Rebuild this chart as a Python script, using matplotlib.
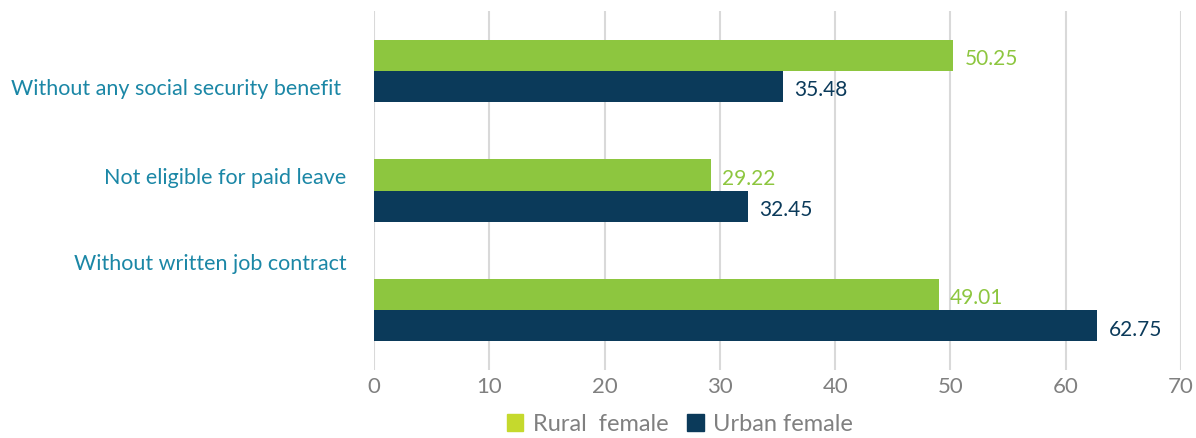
import numpy as np
import matplotlib.pyplot as plt
from matplotlib.patches import Patch

categories = ['Without any social security benefit ', 'Not eligible for paid leave', 'Without written job contract']
rural = [50.25, 29.22, 49.01]
urban = [35.48, 32.45, 62.75]
series_names = ['Rural  female', 'Urban female']
x_ticks = [0, 10, 20, 30, 40, 50, 60, 70]

green = '#8dc63f'
navy = '#0b3a5a'
label_col = '#1b87a6'

plt.rcParams['font.family'] = ['Lato', 'DejaVu Sans']

fig = plt.figure(figsize=(11.96, 4.39), dpi=100)
ax = fig.add_axes([374/1196, 1 - 371/439, (1181-374)/1196, 359/439])

y = np.arange(len(categories))
h = 0.26
b1 = ax.barh(y - h/2, rural, height=h, color=green, label=series_names[0])
b2 = ax.barh(y + h/2, urban, height=h, color=navy, label=series_names[1])

for bars, col in [(b1, green), (b2, navy)]:
    for r in bars:
        v = r.get_width()
        ax.annotate(f'{v:.2f}', (v, r.get_y() + r.get_height()/2), xytext=(8, -2),
                    textcoords='offset points', va='center', ha='left',
                    color=col, fontsize=15)

ax.set_xlim(0, 70)
ax.set_ylim(2.5, -0.5)
ax.set_xticks(x_ticks)
ax.grid(axis='x', color='#d9d9d9', linewidth=1.5)
ax.set_axisbelow(True)
for s in ax.spines.values():
    s.set_visible(False)
ax.tick_params(axis='x', length=0, pad=4, labelcolor='#808080', labelsize=16)

# category labels sit a little off the bar centres in the original
label_pos = [0.125, 0.87, 1.59]
ax.set_yticks(label_pos)
ax.set_yticklabels(categories, color=label_col, fontsize=15.5)
ax.tick_params(axis='y', length=0, pad=20)

handles = [Patch(color='#c5d92d'), Patch(color=navy)]
fig.legend(handles, series_names, loc='center', bbox_to_anchor=(680/1196, 1 - 425/439),
           ncol=2, frameon=False, handlelength=0.7, handleheight=0.7,
           handletextpad=0.4, columnspacing=0.8, labelcolor='#808080',
           prop={'size': 17})

fig.savefig('out.png', dpi=100)
